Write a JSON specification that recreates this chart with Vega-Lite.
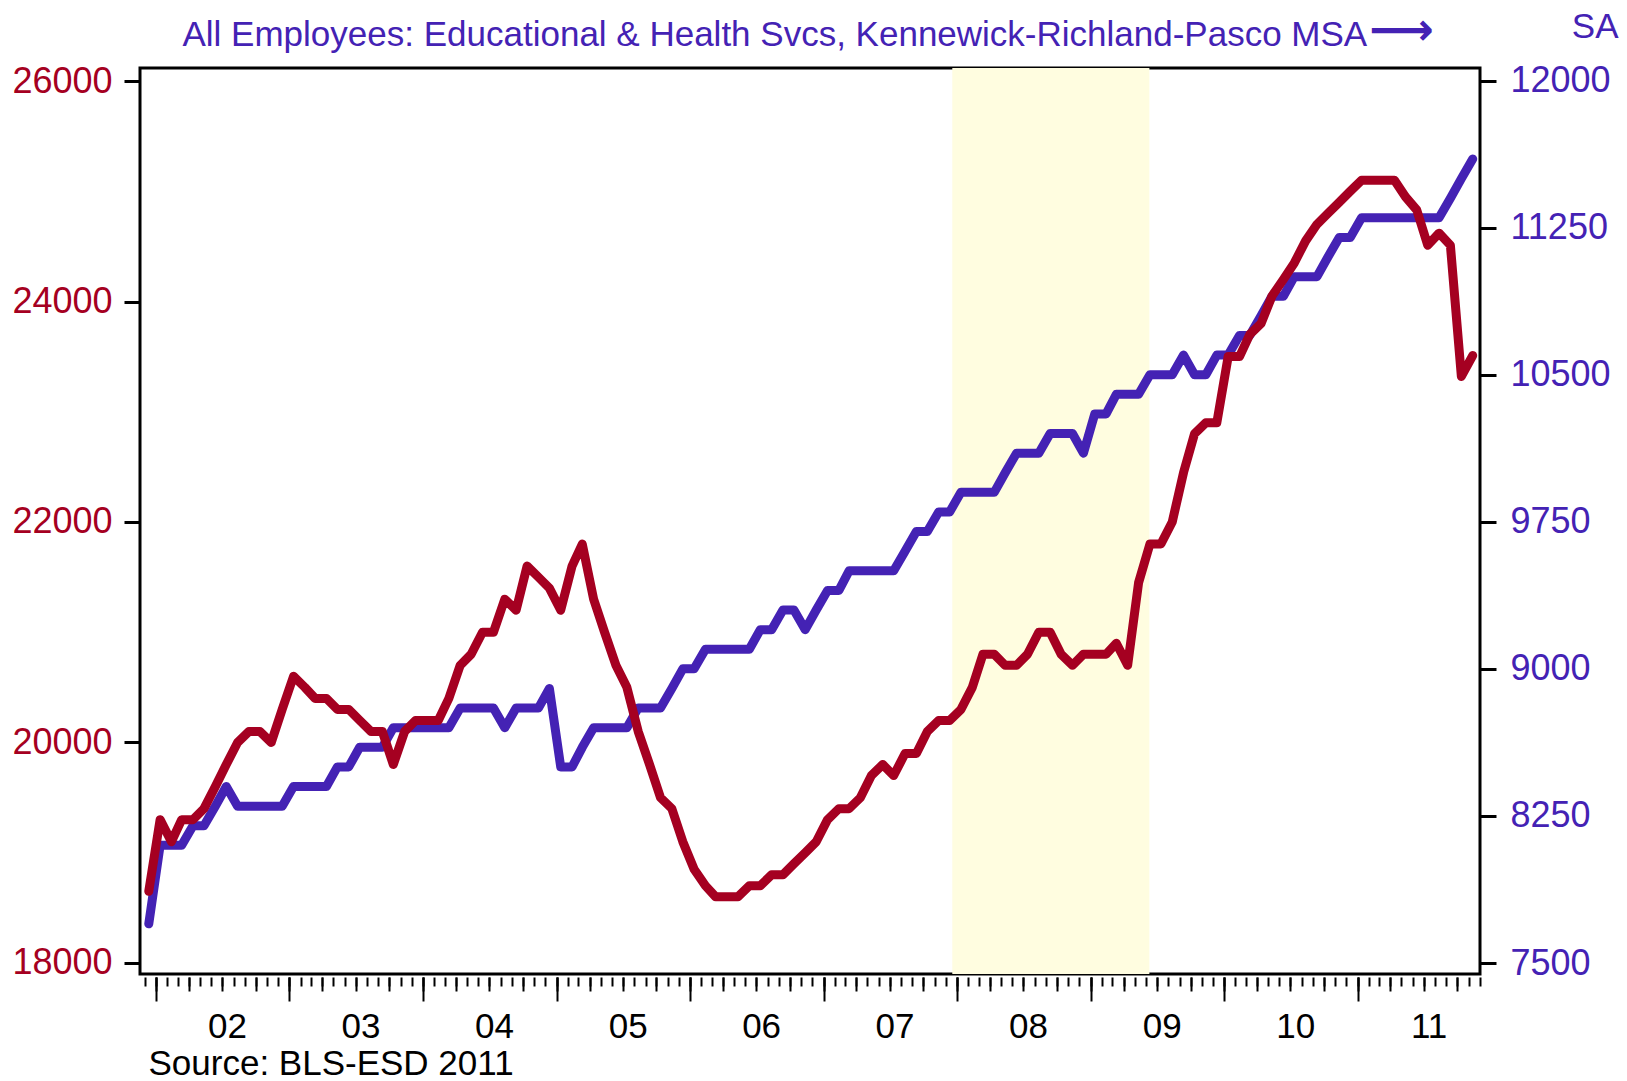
{
  "$schema": "https://vega.github.io/schema/vega-lite/v6.json",
  "width": 1340,
  "height": 906,
  "autosize": "none",
  "padding": {"left": 140, "top": 68, "right": 147, "bottom": 107},
  "background": "white",
  "config": {
    "font": "Liberation Sans",
    "view": {"stroke": "black", "strokeWidth": 3},
    "axis": {"grid": false, "domain": false, "labelFont": "Liberation Sans", "titleFont": "Liberation Sans", "tickColor": "black"}
  },
  "datasets": {
    "recession": [{"start": "2007-12-20", "end": "2009-06-10"}],
    "series": [
      {"date": "2001-12-12", "red": 18650, "blue": 7700},
      {"date": "2002-01-12", "red": 19300, "blue": 8100},
      {"date": "2002-02-12", "red": 19100, "blue": 8100},
      {"date": "2002-03-12", "red": 19300, "blue": 8100},
      {"date": "2002-04-12", "red": 19300, "blue": 8200},
      {"date": "2002-05-12", "red": 19400, "blue": 8200},
      {"date": "2002-06-12", "red": 19600, "blue": 8300},
      {"date": "2002-07-12", "red": 19800, "blue": 8400},
      {"date": "2002-08-12", "red": 20000, "blue": 8300},
      {"date": "2002-09-12", "red": 20100, "blue": 8300},
      {"date": "2002-10-12", "red": 20100, "blue": 8300},
      {"date": "2002-11-12", "red": 20000, "blue": 8300},
      {"date": "2002-12-12", "red": 20300, "blue": 8300},
      {"date": "2003-01-12", "red": 20600, "blue": 8400},
      {"date": "2003-02-12", "red": 20500, "blue": 8400},
      {"date": "2003-03-12", "red": 20400, "blue": 8400},
      {"date": "2003-04-12", "red": 20400, "blue": 8400},
      {"date": "2003-05-12", "red": 20300, "blue": 8500},
      {"date": "2003-06-12", "red": 20300, "blue": 8500},
      {"date": "2003-07-12", "red": 20200, "blue": 8600},
      {"date": "2003-08-12", "red": 20100, "blue": 8600},
      {"date": "2003-09-12", "red": 20100, "blue": 8600},
      {"date": "2003-10-12", "red": 19800, "blue": 8700},
      {"date": "2003-11-12", "red": 20100, "blue": 8700},
      {"date": "2003-12-12", "red": 20200, "blue": 8700},
      {"date": "2004-01-12", "red": 20200, "blue": 8700},
      {"date": "2004-02-12", "red": 20200, "blue": 8700},
      {"date": "2004-03-12", "red": 20400, "blue": 8700},
      {"date": "2004-04-12", "red": 20700, "blue": 8800},
      {"date": "2004-05-12", "red": 20800, "blue": 8800},
      {"date": "2004-06-12", "red": 21000, "blue": 8800},
      {"date": "2004-07-12", "red": 21000, "blue": 8800},
      {"date": "2004-08-12", "red": 21300, "blue": 8700},
      {"date": "2004-09-12", "red": 21200, "blue": 8800},
      {"date": "2004-10-12", "red": 21600, "blue": 8800},
      {"date": "2004-11-12", "red": 21500, "blue": 8800},
      {"date": "2004-12-12", "red": 21400, "blue": 8900},
      {"date": "2005-01-12", "red": 21200, "blue": 8500},
      {"date": "2005-02-12", "red": 21600, "blue": 8500},
      {"date": "2005-03-12", "red": 21800, "blue": 8600},
      {"date": "2005-04-12", "red": 21300, "blue": 8700},
      {"date": "2005-05-12", "red": 21000, "blue": 8700},
      {"date": "2005-06-12", "red": 20700, "blue": 8700},
      {"date": "2005-07-12", "red": 20500, "blue": 8700},
      {"date": "2005-08-12", "red": 20100, "blue": 8800},
      {"date": "2005-09-12", "red": 19800, "blue": 8800},
      {"date": "2005-10-12", "red": 19500, "blue": 8800},
      {"date": "2005-11-12", "red": 19400, "blue": 8900},
      {"date": "2005-12-12", "red": 19100, "blue": 9000},
      {"date": "2006-01-12", "red": 18850, "blue": 9000},
      {"date": "2006-02-12", "red": 18700, "blue": 9100},
      {"date": "2006-03-12", "red": 18600, "blue": 9100},
      {"date": "2006-04-12", "red": 18600, "blue": 9100},
      {"date": "2006-05-12", "red": 18600, "blue": 9100},
      {"date": "2006-06-12", "red": 18700, "blue": 9100},
      {"date": "2006-07-12", "red": 18700, "blue": 9200},
      {"date": "2006-08-12", "red": 18800, "blue": 9200},
      {"date": "2006-09-12", "red": 18800, "blue": 9300},
      {"date": "2006-10-12", "red": 18900, "blue": 9300},
      {"date": "2006-11-12", "red": 19000, "blue": 9200},
      {"date": "2006-12-12", "red": 19100, "blue": 9300},
      {"date": "2007-01-12", "red": 19300, "blue": 9400},
      {"date": "2007-02-12", "red": 19400, "blue": 9400},
      {"date": "2007-03-12", "red": 19400, "blue": 9500},
      {"date": "2007-04-12", "red": 19500, "blue": 9500},
      {"date": "2007-05-12", "red": 19700, "blue": 9500},
      {"date": "2007-06-12", "red": 19800, "blue": 9500},
      {"date": "2007-07-12", "red": 19700, "blue": 9500},
      {"date": "2007-08-12", "red": 19900, "blue": 9600},
      {"date": "2007-09-12", "red": 19900, "blue": 9700},
      {"date": "2007-10-12", "red": 20100, "blue": 9700},
      {"date": "2007-11-12", "red": 20200, "blue": 9800},
      {"date": "2007-12-12", "red": 20200, "blue": 9800},
      {"date": "2008-01-12", "red": 20300, "blue": 9900},
      {"date": "2008-02-12", "red": 20500, "blue": 9900},
      {"date": "2008-03-12", "red": 20800, "blue": 9900},
      {"date": "2008-04-12", "red": 20800, "blue": 9900},
      {"date": "2008-05-12", "red": 20700, "blue": 10000},
      {"date": "2008-06-12", "red": 20700, "blue": 10100},
      {"date": "2008-07-12", "red": 20800, "blue": 10100},
      {"date": "2008-08-12", "red": 21000, "blue": 10100},
      {"date": "2008-09-12", "red": 21000, "blue": 10200},
      {"date": "2008-10-12", "red": 20800, "blue": 10200},
      {"date": "2008-11-12", "red": 20700, "blue": 10200},
      {"date": "2008-12-12", "red": 20800, "blue": 10100},
      {"date": "2009-01-12", "red": 20800, "blue": 10300},
      {"date": "2009-02-12", "red": 20800, "blue": 10300},
      {"date": "2009-03-12", "red": 20900, "blue": 10400},
      {"date": "2009-04-12", "red": 20700, "blue": 10400},
      {"date": "2009-05-12", "red": 21450, "blue": 10400},
      {"date": "2009-06-12", "red": 21800, "blue": 10500},
      {"date": "2009-07-12", "red": 21800, "blue": 10500},
      {"date": "2009-08-12", "red": 22000, "blue": 10500},
      {"date": "2009-09-12", "red": 22450, "blue": 10600},
      {"date": "2009-10-12", "red": 22800, "blue": 10500},
      {"date": "2009-11-12", "red": 22900, "blue": 10500},
      {"date": "2009-12-12", "red": 22900, "blue": 10600},
      {"date": "2010-01-12", "red": 23500, "blue": 10600},
      {"date": "2010-02-12", "red": 23500, "blue": 10700},
      {"date": "2010-03-12", "red": 23700, "blue": 10700},
      {"date": "2010-04-12", "red": 23800, "blue": 10800},
      {"date": "2010-05-12", "red": 24050, "blue": 10900},
      {"date": "2010-06-12", "red": 24200, "blue": 10900},
      {"date": "2010-07-12", "red": 24350, "blue": 11000},
      {"date": "2010-08-12", "red": 24550, "blue": 11000},
      {"date": "2010-09-12", "red": 24700, "blue": 11000},
      {"date": "2010-10-12", "red": 24800, "blue": 11100},
      {"date": "2010-11-12", "red": 24900, "blue": 11200},
      {"date": "2010-12-12", "red": 25000, "blue": 11200},
      {"date": "2011-01-12", "red": 25100, "blue": 11300},
      {"date": "2011-02-12", "red": 25100, "blue": 11300},
      {"date": "2011-03-12", "red": 25100, "blue": 11300},
      {"date": "2011-04-12", "red": 25100, "blue": 11300},
      {"date": "2011-05-12", "red": 24950, "blue": 11300},
      {"date": "2011-06-12", "red": 24830, "blue": 11300},
      {"date": "2011-07-12", "red": 24510, "blue": 11300},
      {"date": "2011-08-12", "red": 24620, "blue": 11300},
      {"date": "2011-09-12", "red": 24510, "blue": 11400},
      {"date": "2011-10-12", "red": 23320, "blue": 11500},
      {"date": "2011-11-12", "red": 23510, "blue": 11600}
    ]
  },
  "layer": [
    {
      "data": {"name": "recession"},
      "mark": {"type": "rect", "color": "#FFFDE0", "stroke": null},
      "encoding": {
        "x": {
          "field": "start", "type": "temporal",
          "scale": {"type": "utc", "domain": [{"year": 2001, "month": 11, "date": 18, "utc": true}, {"year": 2011, "month": 12, "date": 2, "utc": true}]},
          "axis": {
            "orient": "bottom", "offset": 3, "tickCount": {"interval": "month", "step": 1},
            "tickSize": 9, "tickWidth": 2, "labels": false,
            "title": "Source: BLS-ESD 2011", "titleAnchor": "start", "titleAlign": "left",
            "titleX": 8, "titleY": 97, "titleBaseline": "alphabetic",
            "titleFontSize": 35, "titleFontWeight": "normal", "titleColor": "black"
          }
        },
        "x2": {"field": "end"}
      }
    },
    {
      "data": {"name": "recession"},
      "mark": {"type": "rect", "color": "#FFFDE0", "stroke": null},
      "encoding": {
        "x": {
          "field": "start", "type": "temporal",
          "axis": {
            "orient": "top", "ticks": false, "labels": false,
            "title": "\u27f6", "titleFont": "DejaVu Sans", "titleFontWeight": "bold", "titleFontSize": 45,
            "titleAnchor": "start", "titleAlign": "left", "titleBaseline": "alphabetic",
            "titleX": 1229, "titleY": -24, "titleColor": "#4422B4"
          }
        },
        "x2": {"field": "end"}
      }
    },
    {
      "data": {"name": "series"},
      "mark": {"type": "line", "color": "#4422B4", "strokeWidth": 9, "strokeCap": "round", "strokeJoin": "round"},
      "encoding": {
        "x": {
          "field": "date", "type": "temporal",
          "axis": {"orient": "bottom", "offset": 3, "tickCount": {"interval": "month", "step": 3}, "tickSize": 14, "tickWidth": 2, "labels": false, "title": null}
        },
        "y": {
          "field": "blue", "type": "quantitative",
          "scale": {"domain": [7444, 12064], "nice": false, "zero": false},
          "axis": {
            "orient": "right", "values": [7500, 8250, 9000, 9750, 10500, 11250, 12000], "format": "d",
            "tickSize": 16, "tickWidth": 3, "labelPadding": 14, "labelFontSize": 36, "labelColor": "#4422B4",
            "title": "SA", "titleAngle": 0, "titleAlign": "right", "titleBaseline": "alphabetic",
            "titleX": 138, "titleY": -31, "titleFontSize": 35, "titleFontWeight": "normal", "titleColor": "#4422B4"
          }
        }
      }
    },
    {
      "data": {"name": "series"},
      "mark": {"type": "line", "color": "#A50021", "strokeWidth": 9, "strokeCap": "round", "strokeJoin": "round"},
      "encoding": {
        "x": {
          "field": "date", "type": "temporal",
          "axis": {
            "orient": "bottom", "offset": 3, "tickCount": {"interval": "year", "step": 1}, "tickSize": 24, "tickWidth": 2,
            "format": "%y", "labelOffset": 71, "labelPadding": 8, "labelFontSize": 35, "labelColor": "black",
            "labelFlush": false, "labelOverlap": false, "labelBound": false, "title": null
          }
        },
        "y": {
          "field": "red", "type": "quantitative",
          "scale": {"domain": [17900, 26118], "nice": false, "zero": false},
          "axis": {
            "orient": "left", "values": [18000, 20000, 22000, 24000, 26000], "format": "d",
            "tickSize": 16, "tickWidth": 3, "labelPadding": 12, "labelFontSize": 36, "labelColor": "#A50021",
            "title": "All Employees: Educational & Health Svcs, Kennewick-Richland-Pasco MSA",
            "titleAngle": 0, "titleAlign": "left", "titleBaseline": "alphabetic",
            "titleX": 42, "titleY": -23, "titleFontSize": 35, "titleFontWeight": "normal", "titleColor": "#4422B4"
          }
        }
      }
    }
  ],
  "resolve": {"scale": {"y": "independent"}, "axis": {"x": "independent", "y": "independent"}}
}
